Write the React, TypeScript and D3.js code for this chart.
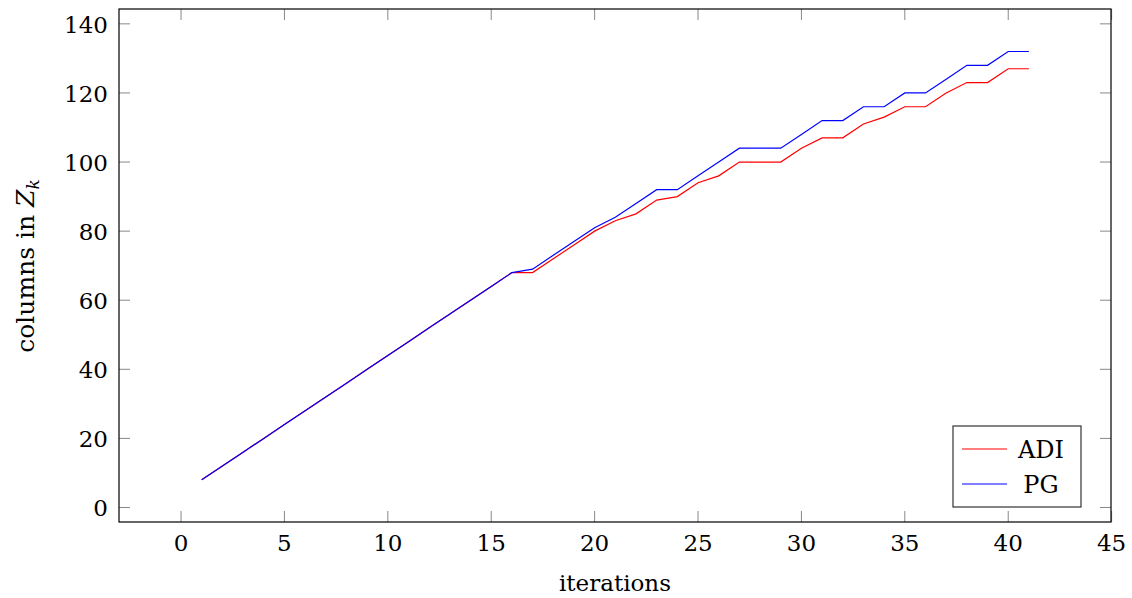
import React from "react";
import * as d3 from "d3";

const iterations = [1,2,3,4,5,6,7,8,9,10,11,12,13,14,15,16,17,18,19,20,21,22,23,24,25,26,27,28,29,30,31,32,33,34,35,36,37,38,39,40,41];
const adi = [8,12,16,20,24,28,32,36,40,44,48,52,56,60,64,68,68,72,76,80,83,85,89,90,94,96,100,100,100,104,107,107,111,113,116,116,120,123,123,127,127];
const pg = [8,12,16,20,24,28,32,36,40,44,48,52,56,60,64,68,69,73,77,81,84,88,92,92,96,100,104,104,104,108,112,112,116,116,120,120,124,128,128,132,132];
const xTicks = [0,5,10,15,20,25,30,35,40,45];
const yTicks = [0,20,40,60,80,100,120,140];
const seriesNames = ["ADI", "PG"];
const seriesColors = ["#ff0000", "#0000ff"];

const W = 1132, H = 598;
const L = 119, R = 1111, T = 9, B = 522;
const FONT = "'DejaVu Serif', serif";

export default function App() {
  const x = d3.scaleLinear().domain([-3, 44.97]).range([L, R]);
  const y = d3.scaleLinear().domain([-4.2, 144.3]).range([B, T]);
  const line = d3.line<[number, number]>().x(d => x(d[0])).y(d => y(d[1]));
  const series = [adi, pg];
  const tl = 11;
  return (
    <svg width={W} height={H} style={{ position: "absolute", left: 0, top: 0, background: "#fff" }} fontFamily={FONT}>
      <rect x={0} y={0} width={W} height={H} fill="#fff" />
      {series.map((s, i) => (
        <path key={i} d={line(iterations.map((it, j) => [it, s[j]] as [number, number])) || ""} fill="none" stroke={seriesColors[i]} strokeWidth={1.2} />
      ))}
      {xTicks.map(t => (
        <g key={"x" + t}>
          <line x1={x(t)} x2={x(t)} y1={B} y2={B - tl} stroke="#888" strokeWidth={1} />
          <line x1={x(t)} x2={x(t)} y1={T} y2={T + tl} stroke="#888" strokeWidth={1} />
          <text x={x(t)} y={551} textAnchor="middle" fontSize={23} fill="#000">{t}</text>
        </g>
      ))}
      {yTicks.map(t => (
        <g key={"y" + t}>
          <line x1={L} x2={L + tl} y1={y(t)} y2={y(t)} stroke="#888" strokeWidth={1} />
          <line x1={R} x2={R - tl} y1={y(t)} y2={y(t)} stroke="#888" strokeWidth={1} />
          <text x={108} y={y(t) + 9} textAnchor="end" fontSize={23} fill="#000">{t}</text>
        </g>
      ))}
      <rect x={L} y={T} width={R - L} height={B - T} fill="none" stroke="#000" strokeWidth={1.2} />
      <text x={(L + R) / 2} y={591} textAnchor="middle" fontSize={23} fill="#000">iterations</text>
      <text transform={`translate(34,266) rotate(-90)`} textAnchor="middle" fontSize={25} fill="#000">
        columns in <tspan fontStyle="italic">Z</tspan><tspan fontStyle="italic" fontSize={17} dy={5}>k</tspan>
      </text>
      <g>
        <rect x={953} y={426} width={128} height={81} fill="#fff" stroke="#333" strokeWidth={1.2} />
        {seriesNames.map((n, i) => (
          <g key={n}>
            <line x1={962} x2={1007} y1={449 + i * 35} y2={449 + i * 35} stroke={seriesColors[i]} strokeWidth={1.2} />
            <text x={1041} y={458 + i * 35} textAnchor="middle" fontSize={24} fill="#000">{n}</text>
          </g>
        ))}
      </g>
    </svg>
  );
}
